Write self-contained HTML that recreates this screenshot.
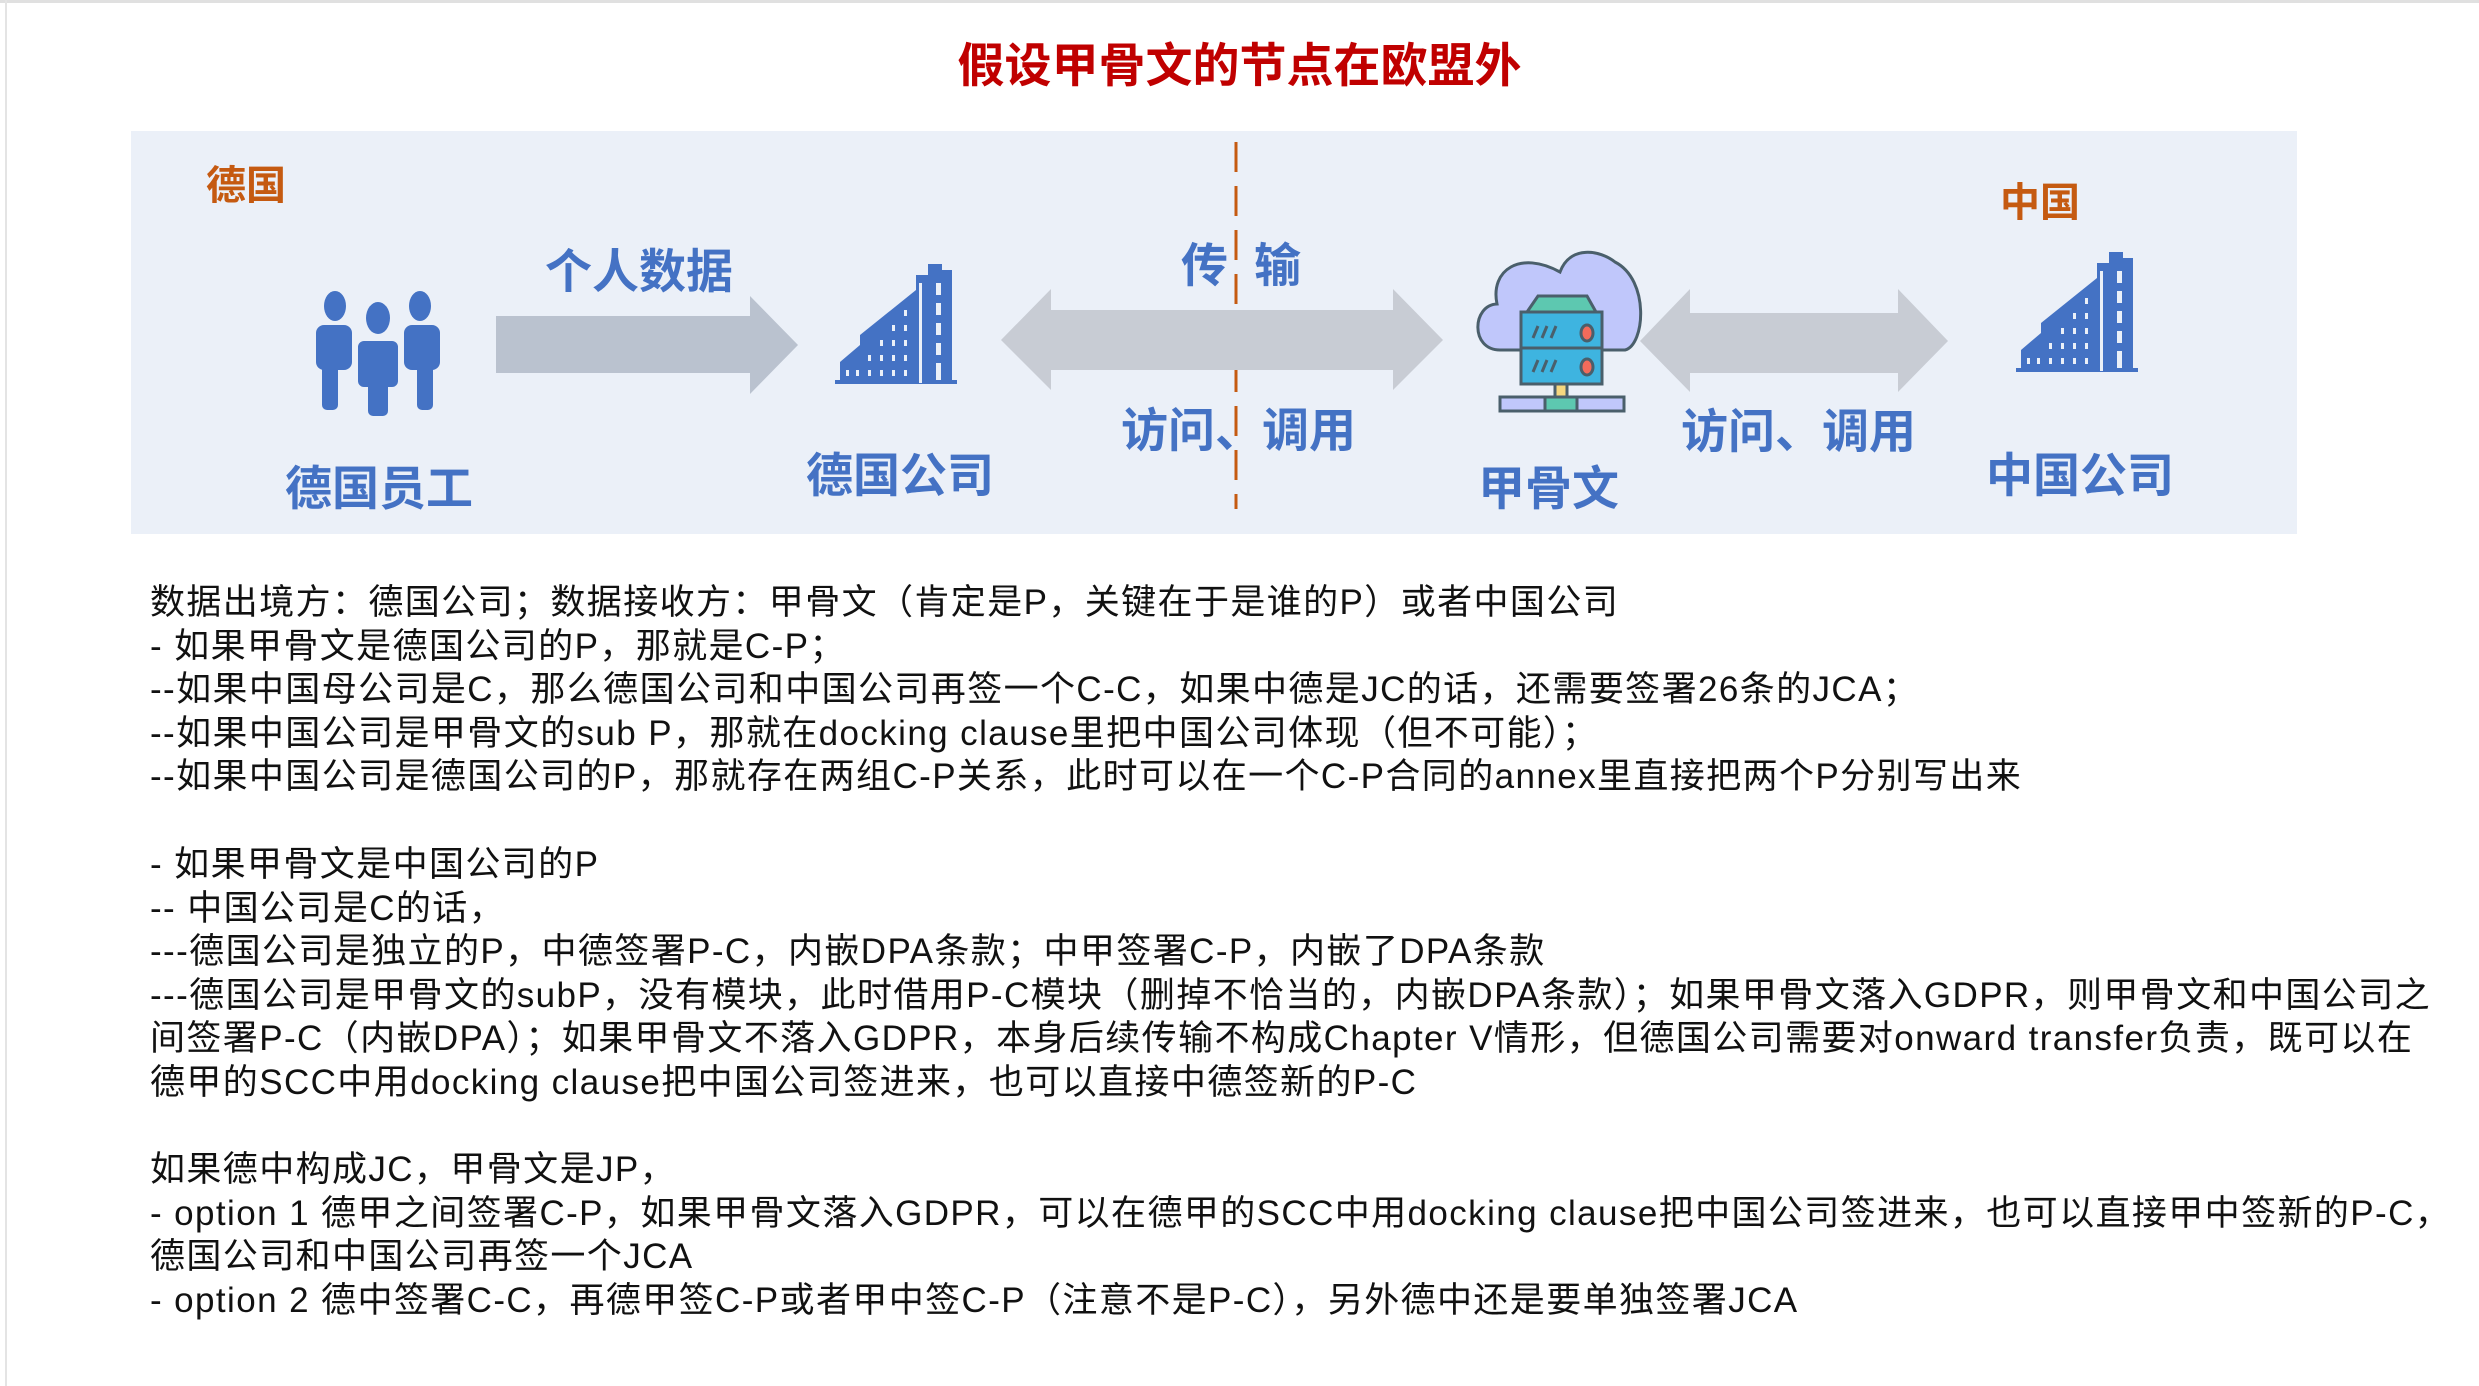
<!DOCTYPE html>
<html><head><meta charset="utf-8">
<style>
body{margin:0;width:2479px;height:1386px;background:#fff;position:relative;overflow:hidden;font-family:"Liberation Sans","Noto Sans CJK SC",sans-serif;}
.a{position:absolute;white-space:nowrap;}
.t{font-weight:bold;color:#4472c4;font-size:47px;line-height:1;}
.o{font-weight:bold;color:#c55a11;font-size:40px;line-height:1;}
.l{position:absolute;left:150px;white-space:nowrap;font-size:35px;line-height:1;color:#111;letter-spacing:1.4px;}
</style></head><body>
<div class="a" style="left:0;top:0;width:2479px;height:3px;background:#e0e0e0"></div>
<div class="a" style="left:5px;top:0;width:2px;height:1386px;background:#e4e4e4"></div>
<div class="a" style="left:0;top:42px;width:2479px;text-align:center;font-size:47px;font-weight:bold;color:#c00000;line-height:1;">假设甲骨文的节点在欧盟外</div>
<div class="a" style="left:131px;top:131px;width:2166px;height:403px;background:#ebf0f8"></div>
<svg class="a" style="left:0;top:0" width="2479" height="560">
<line x1="1236" y1="142" x2="1236" y2="509" stroke="#c55a11" stroke-width="3" stroke-dasharray="30,14"/>
<polygon points="496,316 750,316 750,296 798,345 750,394 750,373 496,373" fill="#bac2cf"/>
<polygon points="1001,340 1051,289 1051,310 1393,310 1393,289 1443,340 1393,390 1393,370 1051,370 1051,390" fill="#c8ccd4"/>
<polygon points="1640,341 1690,289 1690,313 1898,313 1898,289 1948,341 1898,392 1898,373 1690,373 1690,392" fill="#c8ccd4"/>
<g fill="#4472c4">
<ellipse cx="335" cy="306" rx="11" ry="15"/><ellipse cx="420" cy="306" rx="11" ry="15"/><ellipse cx="378" cy="318" rx="12" ry="16"/>
<rect x="316" y="325" width="36" height="45" rx="8"/><rect x="322" y="360" width="16" height="50" rx="5"/>
<rect x="404" y="325" width="36" height="45" rx="8"/><rect x="417" y="360" width="16" height="50" rx="5"/>
<rect x="356" y="339" width="44" height="50" rx="8" stroke="#ebf0f8" stroke-width="4"/><rect x="368" y="380" width="20" height="36" rx="5"/>
</g>
<g id="b1" fill="#4472c4">
<polygon points="835,384 957,384 957,380 952,380 952,270 942,270 942,264 928,264 928,275 916,275 916,290 860,335 860,345 840,362 840,380 835,380"/>
<g fill="#ebf0f8">
<rect x="936" y="283" width="5" height="12"/><rect x="936" y="303" width="5" height="12"/><rect x="936" y="323" width="5" height="12"/><rect x="936" y="343" width="5" height="12"/><rect x="936" y="363" width="5" height="17"/>
<rect x="904" y="310" width="3" height="6"/><rect x="904" y="325" width="3" height="6"/><rect x="904" y="340" width="3" height="6"/><rect x="904" y="355" width="3" height="6"/><rect x="904" y="370" width="3" height="6"/>
<rect x="892" y="325" width="3" height="6"/><rect x="892" y="340" width="3" height="6"/><rect x="892" y="355" width="3" height="6"/><rect x="892" y="370" width="3" height="6"/>
<rect x="880" y="340" width="3" height="6"/><rect x="880" y="355" width="3" height="6"/><rect x="880" y="370" width="3" height="6"/>
<rect x="868" y="355" width="3" height="6"/><rect x="868" y="370" width="3" height="6"/><rect x="856" y="370" width="3" height="6"/><rect x="846" y="370" width="3" height="6"/>
<rect x="919" y="283" width="3" height="100"/>
</g></g>
<g transform="translate(1181,-12)"><g fill="#4472c4">
<polygon points="835,384 957,384 957,380 952,380 952,270 942,270 942,264 928,264 928,275 916,275 916,290 860,335 860,345 840,362 840,380 835,380"/>
<g fill="#ebf0f8">
<rect x="936" y="283" width="5" height="12"/><rect x="936" y="303" width="5" height="12"/><rect x="936" y="323" width="5" height="12"/><rect x="936" y="343" width="5" height="12"/><rect x="936" y="363" width="5" height="17"/>
<rect x="904" y="310" width="3" height="6"/><rect x="904" y="325" width="3" height="6"/><rect x="904" y="340" width="3" height="6"/><rect x="904" y="355" width="3" height="6"/><rect x="904" y="370" width="3" height="6"/>
<rect x="892" y="325" width="3" height="6"/><rect x="892" y="340" width="3" height="6"/><rect x="892" y="355" width="3" height="6"/><rect x="892" y="370" width="3" height="6"/>
<rect x="880" y="340" width="3" height="6"/><rect x="880" y="355" width="3" height="6"/><rect x="880" y="370" width="3" height="6"/>
<rect x="868" y="355" width="3" height="6"/><rect x="868" y="370" width="3" height="6"/><rect x="856" y="370" width="3" height="6"/><rect x="846" y="370" width="3" height="6"/>
<rect x="919" y="283" width="3" height="100"/>
</g></g></g>
<g stroke="#4a5f6b" stroke-width="3">
<path d="M1500,350 C1470,350 1472,305 1497,304 C1490,270 1520,250 1560,272 C1570,245 1600,250 1615,262 C1650,280 1645,345 1625,350 Z" fill="#c0c7fb"/>
<polygon points="1527,312 1538,296 1587,296 1596,312" fill="#5dc8b0"/>
<rect x="1521" y="312" width="81" height="72" fill="#3eb4e0"/>
<line x1="1521" y1="348" x2="1602" y2="348"/>
<ellipse cx="1587" cy="333" rx="6" ry="8" fill="#f26b5b"/><ellipse cx="1587" cy="367" rx="6" ry="8" fill="#f26b5b"/>
<path d="M1533,338 l5,-12 M1542,338 l5,-12 M1551,338 l5,-12 M1533,372 l5,-12 M1542,372 l5,-12 M1551,372 l5,-12"/>
<rect x="1555" y="384" width="12" height="13" fill="#f5d77f"/>
<rect x="1500" y="397" width="124" height="14" fill="#c0c7fb"/>
<rect x="1545" y="397" width="32" height="14" fill="#5dc8b0"/>
</g>
</svg>
<div class="a o" style="left:206px;top:166px">德国</div>
<div class="a o" style="left:2000px;top:183px">中国</div>
<div class="a t" style="left:545px;top:248px">个人数据</div>
<div class="a t" style="left:285px;top:465px">德国员工</div>
<div class="a t" style="left:806px;top:452px">德国公司</div>
<div class="a t" style="left:1181px;top:242px">传&nbsp;&nbsp;输</div>
<div class="a t" style="left:1121px;top:407px">访问、调用</div>
<div class="a t" style="left:1478px;top:465px">甲骨文</div>
<div class="a t" style="left:1681px;top:408px">访问、调用</div>
<div class="a t" style="left:1986px;top:452px">中国公司</div>
<div class="l" style="top:585px">数据出境方：德国公司；数据接收方：甲骨文（肯定是P，关键在于是谁的P）或者中国公司</div>
<div class="l" style="top:629px">- 如果甲骨文是德国公司的P，那就是C-P；</div>
<div class="l" style="top:672px">--如果中国母公司是C，那么德国公司和中国公司再签一个C-C，如果中德是JC的话，还需要签署26条的JCA；</div>
<div class="l" style="top:716px">--如果中国公司是甲骨文的sub P，那就在docking clause里把中国公司体现（但不可能）；</div>
<div class="l" style="top:759px">--如果中国公司是德国公司的P，那就存在两组C-P关系，此时可以在一个C-P合同的annex里直接把两个P分别写出来</div>
<div class="l" style="top:847px">- 如果甲骨文是中国公司的P</div>
<div class="l" style="top:891px">-- 中国公司是C的话，</div>
<div class="l" style="top:934px">---德国公司是独立的P，中德签署P-C，内嵌DPA条款；中甲签署C-P，内嵌了DPA条款</div>
<div class="l" style="top:978px">---德国公司是甲骨文的subP，没有模块，此时借用P-C模块（删掉不恰当的，内嵌DPA条款）；如果甲骨文落入GDPR，则甲骨文和中国公司之</div>
<div class="l" style="top:1021px">间签署P-C（内嵌DPA）；如果甲骨文不落入GDPR，本身后续传输不构成Chapter V情形，但德国公司需要对onward transfer负责，既可以在</div>
<div class="l" style="top:1065px">德甲的SCC中用docking clause把中国公司签进来，也可以直接中德签新的P-C</div>
<div class="l" style="top:1152px">如果德中构成JC，甲骨文是JP，</div>
<div class="l" style="top:1196px">- option 1 德甲之间签署C-P，如果甲骨文落入GDPR，可以在德甲的SCC中用docking clause把中国公司签进来，也可以直接甲中签新的P-C，</div>
<div class="l" style="top:1239px">德国公司和中国公司再签一个JCA</div>
<div class="l" style="top:1283px">- option 2 德中签署C-C，再德甲签C-P或者甲中签C-P（注意不是P-C），另外德中还是要单独签署JCA</div>
</body></html>
